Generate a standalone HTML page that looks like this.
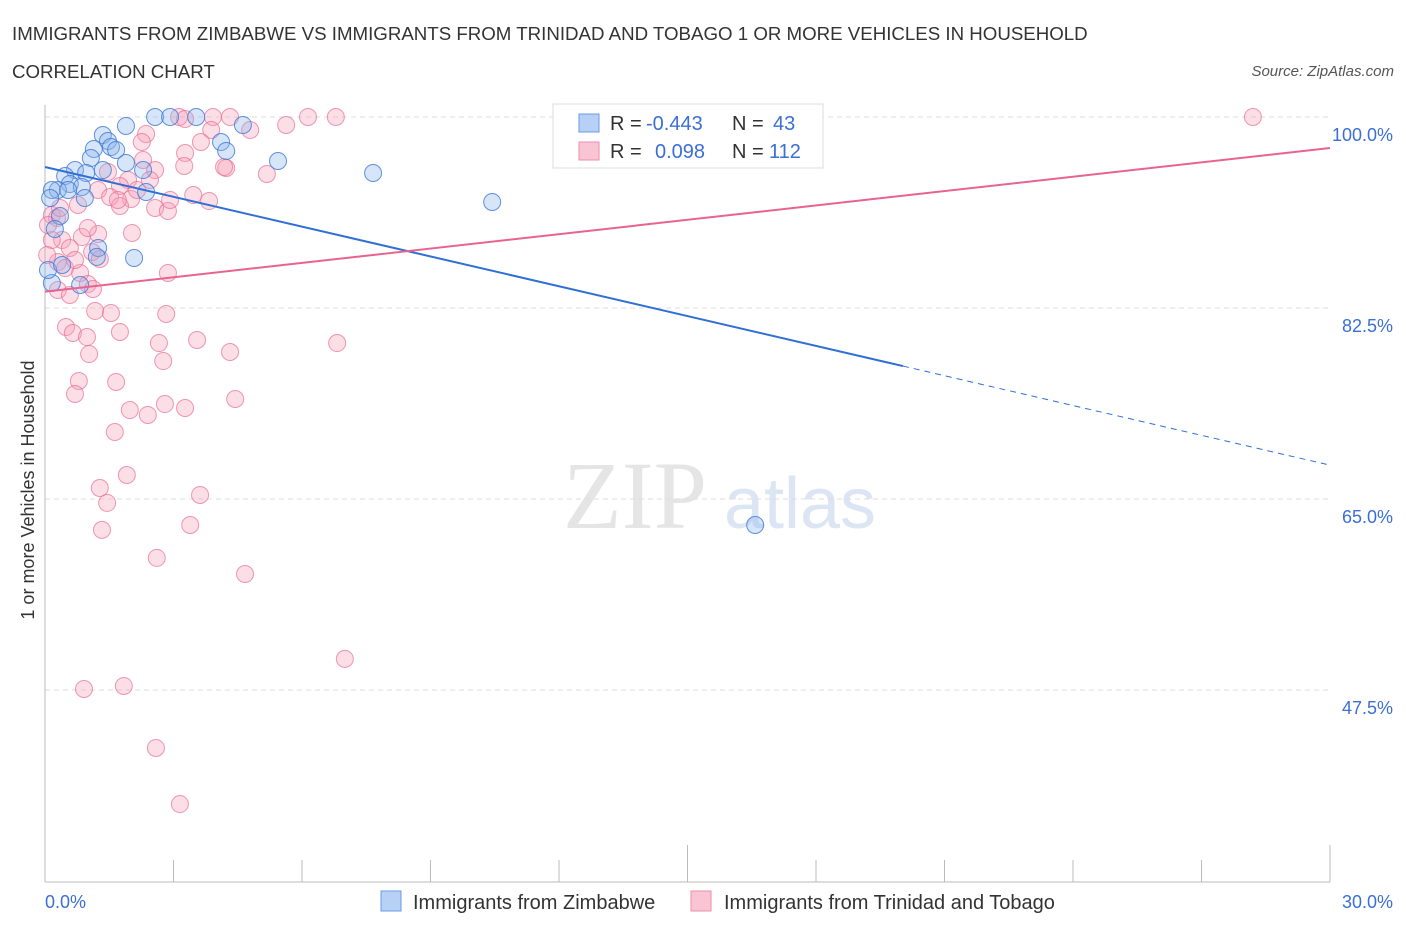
<!DOCTYPE html>
<html><head><meta charset="utf-8"><style>
body{margin:0;background:#fff;font-family:"Liberation Sans",sans-serif;}
</style></head><body>
<svg width="1406" height="930" viewBox="0 0 1406 930" xmlns="http://www.w3.org/2000/svg">
<text x="12" y="40" font-size="18.7" fill="#333">IMMIGRANTS FROM ZIMBABWE VS IMMIGRANTS FROM TRINIDAD AND TOBAGO 1 OR MORE VEHICLES IN HOUSEHOLD</text>
<text x="12" y="78" font-size="18.7" fill="#333">CORRELATION CHART</text>
<text x="1394" y="76" font-size="15" fill="#555" font-style="italic" text-anchor="end">Source: ZipAtlas.com</text>
<g opacity="0.5">
<text x="635" y="528" font-size="96" fill="#ccc" font-family="Liberation Serif" text-anchor="middle">ZIP</text>
<text x="800" y="528" font-size="72" fill="#b8cdea" text-anchor="middle">atlas</text>
</g>
<g id="grid"></g>
<g id="axes"></g>
<g id="pts"></g>
<g id="lines"></g>
<text transform="translate(34,490) rotate(-90)" font-size="18" fill="#333" text-anchor="middle">1 or more Vehicles in Household</text>
<g>
<rect x="553" y="104" width="270" height="64" fill="#fff" stroke="#ddd"/>
<rect x="579" y="114" width="20" height="18" fill="#b7d0f5" stroke="#6a9be0"/>
<rect x="579" y="142" width="20" height="18" fill="#f9c5d4" stroke="#eb8fab"/>
<text x="610" y="130" font-size="20" fill="#333">R = <tspan fill="#3b6fd6" x="646">-0.443</tspan><tspan x="732">N = </tspan><tspan fill="#3b6fd6" x="773">43</tspan></text>
<text x="610" y="158" font-size="20" fill="#333">R = <tspan fill="#3b6fd6" x="655">0.098</tspan><tspan x="732">N = </tspan><tspan fill="#3b6fd6" x="769">112</tspan></text>
</g>
<g>
<rect x="381" y="891" width="20" height="20" fill="#b7d0f5" stroke="#6a9be0"/>
<text x="413" y="909" font-size="20" fill="#333">Immigrants from Zimbabwe</text>
<rect x="691" y="891" width="20" height="20" fill="#f9c5d4" stroke="#eb8fab"/>
<text x="724" y="909" font-size="20" fill="#333">Immigrants from Trinidad and Tobago</text>
</g>
</svg>
<script>
const yTicks=[100,82.5,65,47.5];
const yTickLabels=["100.0%","82.5%","65.0%","47.5%"];
const xTickLabels=["0.0%","30.0%"];
const blueX=[2.57,2.92,3.53,4.62,1.89,1.35,1.47,4.11,1.54,1.14,1.66,4.23,1.07,5.44,1.89,0.70,1.35,2.29,7.66,0.96,0.47,0.58,0.30,0.16,0.86,2.36,0.54,0.93,10.44,0.12,0.35,0.23,1.24,1.21,2.08,0.82,0.16,16.58,0.07,0.40];
const blueY=[100,100,100,99.27,99.18,98.35,97.8,97.71,97.25,97.07,96.98,96.89,96.24,95.97,95.79,95.14,95.14,95.14,94.87,94.87,94.59,93.86,93.31,93.31,93.59,93.13,93.31,92.58,92.21,92.58,90.93,89.74,88.0,87.18,87.08,84.61,84.79,62.62,85.98,86.44];
const pinkX=[28.20,6.79,6.14,3.92,4.32,3.13,3.27,4.79,5.63,3.88,2.36,3.64,2.26,3.27,2.29,3.25,4.23,4.18,5.18,1.47,1.94,2.57,1.24,1.75,3.46,1.52,2.01,3.83,2.57,2.87,0.77,1.75,0.16,0.28,2.03,1.24,0.86,0.40,0.58,1.10,1.28,0.30,0.47,2.87,0.82,1.00,1.12,1.17,1.54,2.83,0.49,0.65,0.98,1.75,3.55,6.82,2.66,4.32,1.03,2.76,0.79,1.66,0.70,4.44,2.80,3.27,1.98,2.40,1.63,1.91,1.28,3.62,1.45,3.39,1.33,2.61,4.67,7.00,0.91,1.84,2.59,3.15,0.16,0.30,0.58,0.05,0.07,0.35,0.70,1.70,2.15,2.45,2.92,1.00];
const pinkY=[100,100,100,100,100,100,99.82,98.81,99.27,98.81,98.44,97.71,97.71,96.70,96.06,95.51,95.33,95.42,94.78,94.96,94.23,95.14,93.31,93.68,92.85,92.67,92.49,92.30,91.66,91.39,91.94,91.85,91.02,90.75,89.37,89.28,89.00,88.73,88.0,87.63,86.99,86.71,86.16,85.71,85.71,84.70,84.24,82.23,82.04,81.95,80.76,80.21,79.84,80.30,79.57,79.29,79.29,78.47,78.28,77.64,75.81,75.72,74.62,74.16,73.70,73.34,73.15,72.70,71.14,67.20,66.01,65.37,64.64,62.62,62.17,59.60,58.13,50.35,47.59,47.87,42.19,37.05,88.73,84.15,83.69,87.36,90.10,91.66,86.90,92.40,93.31,94.23,92.40,89.83];
const blueTrend=[95.42,68.1]; const blueSolidEnd=20.03;
const pinkTrend=[84.0,97.16];
const NS="http://www.w3.org/2000/svg";
const X=v=>45+v*(1285/30);
const Y=v=>117+(100-v)*(191/17.5);
function mk(t,a,p){const e=document.createElementNS(NS,t);for(const k in a)e.setAttribute(k,a[k]);p.appendChild(e);return e;}
const grid=document.getElementById('grid'),axes=document.getElementById('axes');
yTicks.forEach((v,i)=>{
 const l=mk('line',{x1:45,x2:1330,y1:Y(v),y2:Y(v),stroke:'#ddd','stroke-dasharray':'5,4'},grid);
 
 
 const t=mk('text',{x:1393,y:Y(v)+24,'font-size':18,fill:'#3b6fd6','text-anchor':'end'},axes);
 t.textContent=yTickLabels[i];
 
 
});
mk('line',{x1:45,x2:45,y1:105,y2:882,stroke:'#bbb'},axes);
mk('line',{x1:45,x2:1330,y1:882,y2:882,stroke:'#bbb'},axes);
for(let i=0;i<=10;i++){const tk=mk('line',{x1:X(i*3),x2:X(i*3),y1:i%5==0?845:860,y2:882,stroke:'#bbb'},axes);
 
 }
[[0,'start',45],[1,'end',1393]].forEach(([i,a,x])=>{const t=mk('text',{x:x,y:908,'font-size':18,fill:'#3b6fd6','text-anchor':a},axes);t.textContent=xTickLabels[i];
 
 });
const pts=document.getElementById('pts');
pinkX.forEach((x,i)=>{const c=mk('circle',{cx:X(x),cy:Y(pinkY[i]),r:8.5,fill:'rgba(246,160,185,0.35)',stroke:'rgba(232,110,150,0.7)','stroke-width':1},pts);
 
 });
blueX.forEach((x,i)=>{const c=mk('circle',{cx:X(x),cy:Y(blueY[i]),r:8.5,fill:'rgba(140,180,235,0.35)',stroke:'rgba(60,120,215,0.8)','stroke-width':1},pts);
 
 });
const lines=document.getElementById('lines');
const by=x=>blueTrend[0]+(blueTrend[1]-blueTrend[0])*x/30;
const l1=mk('line',{x1:X(0),y1:Y(by(0)),x2:X(blueSolidEnd),y2:Y(by(blueSolidEnd)),stroke:'#2f6fd6','stroke-width':2},lines);


const l2=mk('line',{x1:X(blueSolidEnd),y1:Y(by(blueSolidEnd)),x2:X(30),y2:Y(by(30)),stroke:'#2f6fd6','stroke-width':1,'stroke-dasharray':'6,5'},lines);


const l3=mk('line',{x1:X(0),y1:Y(pinkTrend[0]),x2:X(30),y2:Y(pinkTrend[1]),stroke:'#e8648f','stroke-width':2},lines);


</script>
</body></html>
